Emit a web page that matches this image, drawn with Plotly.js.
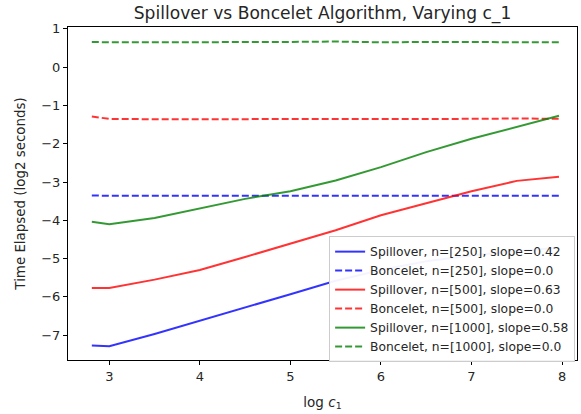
<!DOCTYPE html>
<html>
<head>
<meta charset="utf-8">
<script src="https://cdn.plot.ly/plotly-3.0.1.min.js"></script>
<style>html,body{margin:0;padding:0;background:#fff;}#chart{width:581px;height:414px;}</style>
</head>
<body>
<div id="chart"></div>
<script>
const logC1 = [2.807, 3, 3.5, 4, 4.5, 5, 5.5, 6, 6.5, 7, 7.5, 7.966];

const spill250 = [-7.27, -7.29, -6.97, -6.63, -6.28, -5.93, -5.58, -5.30, -5.07, -4.92, -4.80, -4.72];
const bonc250  = [-3.35, -3.36, -3.36, -3.36, -3.35, -3.36, -3.35, -3.36, -3.36, -3.36, -3.36, -3.36];
const spill500 = [-5.77, -5.77, -5.55, -5.30, -4.96, -4.61, -4.26, -3.87, -3.55, -3.24, -2.97, -2.86];
const bonc500  = [-1.29, -1.35, -1.36, -1.36, -1.35, -1.35, -1.35, -1.35, -1.35, -1.35, -1.34, -1.35];
const spill1000 = [-4.04, -4.10, -3.94, -3.70, -3.44, -3.24, -2.96, -2.61, -2.22, -1.87, -1.57, -1.27];
const bonc1000  = [0.66, 0.65, 0.65, 0.65, 0.65, 0.66, 0.67, 0.65, 0.66, 0.65, 0.65, 0.65];

const names = [
  "Spillover, n=[250], slope=0.42",
  "Boncelet, n=[250], slope=0.0",
  "Spillover, n=[500], slope=0.63",
  "Boncelet, n=[500], slope=0.0",
  "Spillover, n=[1000], slope=0.58",
  "Boncelet, n=[1000], slope=0.0"
];
const series = [spill250, bonc250, spill500, bonc500, spill1000, bonc1000];
const colors = ["rgba(0,0,255,0.8)", "rgba(0,0,255,0.8)", "rgba(255,0,0,0.8)", "rgba(255,0,0,0.8)", "rgba(0,128,0,0.8)", "rgba(0,128,0,0.8)"];
const dashes = ["solid", "7px,3px", "solid", "7px,3px", "solid", "7px,3px"];

const traces = series.map((ys, i) => ({
  x: logC1, y: ys, type: "scatter", mode: "lines", name: names[i],
  line: {color: colors[i], width: 2, dash: dashes[i]}
}));

const font = {family: "DejaVu Sans, sans-serif", color: "#262626"};
const layout = {
  width: 581, height: 414,
  margin: {l: 68, r: 4, t: 27, b: 54},
  paper_bgcolor: "#fff", plot_bgcolor: "#fff",
  font: Object.assign({size: 13}, font),
  title: {text: "Spillover vs Boncelet Algorithm, Varying c_1", font: Object.assign({size: 17.1}, font),
          x: 0.5, xref: "paper", xanchor: "center", y: 1 - 13/414, yref: "container", yanchor: "middle"},
  xaxis: {range: [2.544, 8.165], tickvals: [3,4,5,6,7,8], ticks: "outside", ticklen: 4, tickcolor: "#000",
          showgrid: false, zeroline: false, showline: true, linecolor: "#000", linewidth: 1, mirror: true,
          tickfont: Object.assign({size: 13}, font),
          title: {text: "log <i>c</i><sub>1</sub>", font: Object.assign({size: 13.5}, font), standoff: 14}},
  yaxis: {range: [-7.65, 1.05], tickvals: [-7,-6,-5,-4,-3,-2,-1,0,1], ticks: "outside", ticklen: 4, tickcolor: "#000",
          showgrid: false, zeroline: false, showline: true, linecolor: "#000", linewidth: 1, mirror: true,
          tickfont: Object.assign({size: 13}, font),
          title: {text: "Time Elapsed (log2 seconds)", font: Object.assign({size: 13.4}, font), standoff: 12}},
  legend: {x: 0.513, y: 0.372, xanchor: "left", yanchor: "top", bgcolor: "rgba(255,255,255,0.95)",
           bordercolor: "#cccccc", borderwidth: 1, font: Object.assign({size: 12.3}, font),
           tracegroupgap: 0, itemwidth: 30},
  showlegend: true
};

Plotly.newPlot("chart", traces, layout, {displayModeBar: false, staticPlot: true});
</script>
</body>
</html>
